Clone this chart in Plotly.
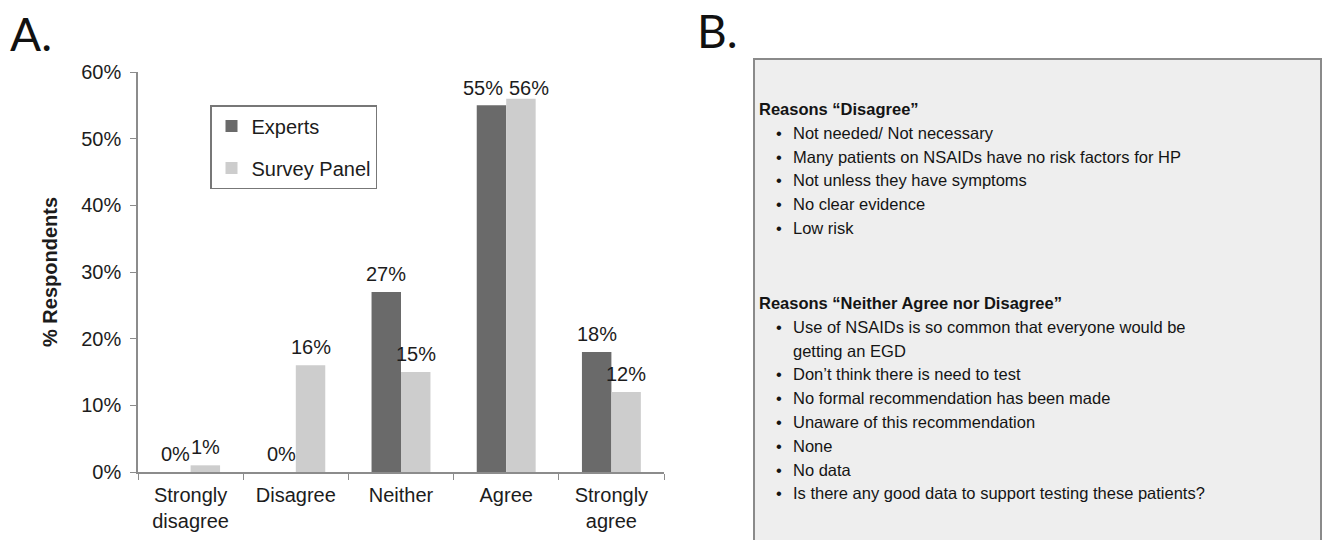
import plotly.graph_objects as go

# ---- data -------------------------------------------------------------
categories = ["Strongly<br>disagree", "Disagree", "Neither", "Agree", "Strongly<br>agree"]
experts = [0, 0, 27, 55, 18]
survey_panel = [1, 16, 15, 56, 12]
y_ticks = [0, 10, 20, 30, 40, 50, 60]

disagree_reasons = [
    "Not needed/ Not necessary",
    "Many patients on NSAIDs have no risk factors for HP",
    "Not unless they have symptoms",
    "No clear evidence",
    "Low risk",
]
neither_reasons = [
    "Use of NSAIDs is so common that everyone would be<br>getting an EGD",
    "Don\u2019t think there is need to test",
    "No formal recommendation has been made",
    "Unaware of this recommendation",
    "None",
    "No data",
    "Is there any good data to support testing these patients?",
]

# ---- page geometry (pixels) ------------------------------------------
W, H = 1323, 540
PL, PR, PT, PB = 138, 664, 72, 472  # plot area edges
BARGAP = 0.44
Y_MAX = 60

def px(x):
    return (x - PL) / (PR - PL)

def py(y):
    return (PB - y) / (PB - PT)

FONT = "Liberation Sans, Arial, sans-serif"
TXT = "#1c1c1c"
AX = "#8c8c8c"
LABEL_SIZE = 20

fig = go.Figure()
fig.add_trace(go.Bar(
    x=categories, y=experts, name="Experts",
    marker=dict(color="#6a6a6a", line=dict(width=0)),
    legendgroup="e",
))
fig.add_trace(go.Bar(
    x=categories, y=survey_panel, name="Survey Panel",
    marker=dict(color="#cdcdcd", line=dict(width=0)),
    legendgroup="s",
))

# ---- value labels: 18px above each bar, kept inside the plot top and
#      pushed apart sideways when the two labels of a pair would overlap ----
cat_w = (PR - PL) / len(categories)
bar_w = cat_w * (1 - BARGAP) / 2
px_per_unit = (PB - PT) / Y_MAX
LABEL_LIFT = 18
TOP_LIMIT = PT + 16  # label centre may not go above this pixel row

def label_width(text):
    # Arial-metric estimate: digits 0.556em, percent sign 0.889em
    return LABEL_SIZE * (0.556 * (len(text) - 1) + 0.889)

annotations = []
for cat, e, s in zip(categories, experts, survey_panel):
    texts = (f"{e}%", f"{s}%")
    centres = [max(PB - v * px_per_unit - LABEL_LIFT, TOP_LIMIT) for v in (e, s)]
    spread = 0.0
    if abs(centres[0] - centres[1]) < LABEL_SIZE:
        needed = (label_width(texts[0]) + label_width(texts[1])) / 2
        if bar_w < needed:
            spread = (needed + 6 - bar_w) / 2
    for v, t, side, yc in ((e, texts[0], -1, centres[0]), (s, texts[1], 1, centres[1])):
        bar_top = PB - v * px_per_unit
        annotations.append(dict(
            x=cat, y=v, xref="x", yref="y", text=t, showarrow=False,
            xshift=side * (bar_w / 2 + spread), yshift=bar_top - yc,
            xanchor="center", yanchor="middle",
            font=dict(size=LABEL_SIZE, family=FONT, color=TXT),
        ))

fig.update_layout(
    width=W, height=H,
    margin=dict(l=PL, r=W - PR, t=PT, b=H - PB, autoexpand=False),
    paper_bgcolor="white", plot_bgcolor="white",
    font=dict(family=FONT, size=20, color=TXT),
    barmode="group", bargap=BARGAP, bargroupgap=0,
    showlegend=True,
    legend=dict(
        x=px(210), y=py(105), xanchor="left", yanchor="top",
        bordercolor="#777777", borderwidth=1.5, bgcolor="white",
        font=dict(size=20, family=FONT, color=TXT),
        traceorder="grouped", tracegroupgap=13,
        itemwidth=30,
    ),
    xaxis=dict(
        automargin=False,
        showline=True, linecolor=AX, linewidth=1.5,
        ticks="outside", tickson="boundaries", ticklen=6, tickcolor=AX,
        tickfont=dict(size=20, family=FONT, color=TXT),
        ticklabelstandoff=4,
        showgrid=False, zeroline=False,
    ),
    yaxis=dict(
        automargin=False,
        range=[0, Y_MAX], tickvals=y_ticks, ticktext=[f"{v}%" for v in y_ticks],
        showline=True, linecolor=AX, linewidth=1.5,
        ticks="outside", ticklen=6, tickcolor=AX,
        tickfont=dict(size=20, family=FONT, color=TXT),
        ticklabelstandoff=5,
        showgrid=False, zeroline=False,
        title=dict(text="<b>% Respondents</b>", font=dict(size=20, family=FONT, color=TXT),
                   standoff=18),
    ),
)

# Panel letters
annotations.append(dict(text="A.", x=px(8), y=py(33), xref="paper", yref="paper",
                        xanchor="left", yanchor="middle", showarrow=False,
                        font=dict(size=46, family="Lato, sans-serif", color="#111111")))
annotations.append(dict(text="B.", x=px(695), y=py(31), xref="paper", yref="paper",
                        xanchor="left", yanchor="middle", showarrow=False,
                        font=dict(size=46, family="Lato, sans-serif", color="#111111")))

# Panel B: reasons box
shapes = [dict(type="rect", xref="paper", yref="paper",
               x0=px(754), x1=px(1321), y0=py(59), y1=py(545),
               line=dict(color="#8a8a8a", width=2), fillcolor="#eeeeee", layer="below")]

HEAD_X, BUL_X, ITEM_X = 757, 779, 791
STEP = 23.8
BFONT = dict(size=16.5, family=FONT, color="#141414")

def add_block(title, items, y0):
    annotations.append(dict(text=f"<b>{title}</b>", x=px(HEAD_X), y=py(y0),
                            xref="paper", yref="paper", xanchor="left", yanchor="middle",
                            showarrow=False, font=BFONT))
    y = y0 + STEP
    for item in items:
        annotations.append(dict(text="\u2022", x=px(BUL_X), y=py(y), xref="paper", yref="paper",
                                xanchor="center", yanchor="middle", showarrow=False, font=BFONT))
        for line in item.split("<br>"):
            annotations.append(dict(text=line, x=px(ITEM_X), y=py(y), xref="paper",
                                    yref="paper", xanchor="left", yanchor="middle",
                                    showarrow=False, font=BFONT))
            y += STEP

add_block("Reasons \u201cDisagree\u201d", disagree_reasons, 109)
add_block("Reasons \u201cNeither Agree nor Disagree\u201d", neither_reasons, 303)

fig.update_layout(annotations=annotations, shapes=shapes)
fig.write_html("out.html")
